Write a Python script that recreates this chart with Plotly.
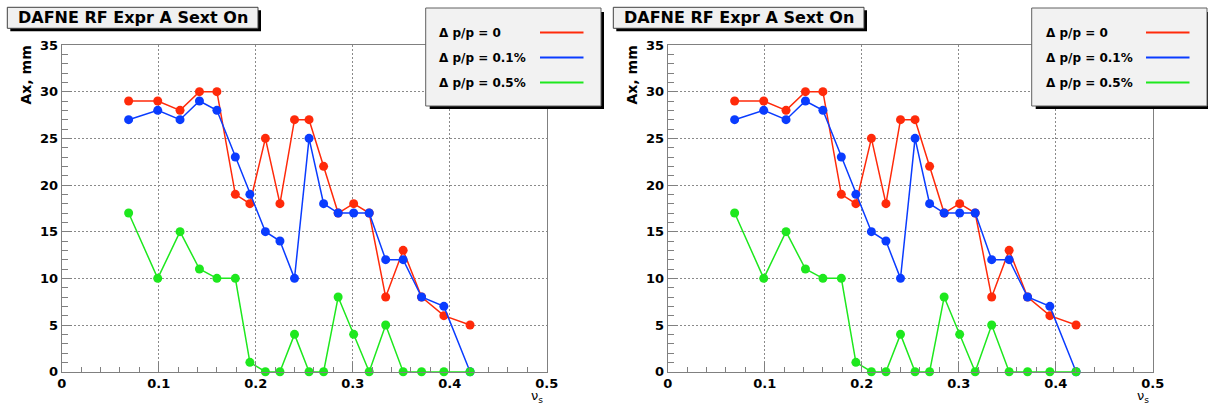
import plotly.graph_objects as go

# ---- data ----
nu_s = [0.069, 0.099, 0.122, 0.142, 0.160, 0.179, 0.194, 0.210, 0.225, 0.240,
        0.255, 0.270, 0.285, 0.301, 0.317, 0.334, 0.352, 0.371, 0.394, 0.421]
ax_dp0 = [29, 29, 28, 30, 30, 19, 18, 25, 18, 27, 27, 22, 17, 18, 17, 8, 13, 8, 6, 5]
ax_dp01 = [27, 28, 27, 29, 28, 23, 19, 15, 14, 10, 25, 18, 17, 17, 17, 12, 12, 8, 7, 0]
ax_dp05 = [17, 10, 15, 11, 10, 10, 1, 0, 0, 4, 0, 0, 8, 4, 0, 5, 0, 0, 0, 0]

series_names = ["\u0394 p/p = 0", "\u0394 p/p = 0.1%", "\u0394 p/p = 0.5%"]
series_values = [ax_dp0, ax_dp01, ax_dp05]
series_colors = ["#ff2a0a", "#0a3cff", "#1ee81e"]

title_text = "DAFNE RF Expr A Sext On"
y_title = "Ax, mm"
x_title = "\u03bd<sub>s</sub>"

W, H = 1208, 407
FONT = "DejaVu Sans"

def px(x):
    return x / W

def py(y):
    return 1 - y / H

fig = go.Figure()

panel_offsets = [0, 606]
x_left, x_right = 61.7, 546.7
y_top, y_bot = 45.0, 371.7

shapes = []
annotations = []

for i, off in enumerate(panel_offsets):
    xa = "x" if i == 0 else f"x{i+1}"
    ya = "y" if i == 0 else f"y{i+1}"
    for name, vals, col in zip(series_names, series_values, series_colors):
        fig.add_trace(go.Scatter(
            x=nu_s, y=vals, mode="lines+markers", name=name,
            line=dict(color=col, width=1.5),
            marker=dict(color=col, size=9, symbol="circle"),
            xaxis=xa, yaxis=ya, showlegend=False, cliponaxis=False))

    axis_common = dict(
        automargin=False,
        showline=True, linecolor="#808080", linewidth=1, mirror=True,
        ticks="inside", tickcolor="#808080", ticklen=10, tickwidth=1,
        showgrid=True, gridcolor="#8a8a8a", griddash="2px,2px", gridwidth=1,
        zeroline=False,
        tickfont=dict(family=FONT, size=13, color="black", weight="bold"),
    )
    xkey = "xaxis" if i == 0 else f"xaxis{i+1}"
    ykey = "yaxis" if i == 0 else f"yaxis{i+1}"
    fig.update_layout(**{
        xkey: dict(axis_common,
                   domain=[px(x_left + off), px(x_right + off)],
                   range=[0, 0.5], dtick=0.1, tick0=0,
                   anchor=ya,
                   minor=dict(dtick=0.02, ticks="inside", ticklen=5,
                              tickcolor="#808080", showgrid=False)),
        ykey: dict(axis_common,
                   domain=[py(y_bot), py(y_top)],
                   range=[0, 35], dtick=5, tick0=0,
                   anchor=xa,
                   minor=dict(dtick=1, ticks="inside", ticklen=6,
                              tickcolor="#808080", showgrid=False)),
    })

    # title box with shadow
    tx0, ty0, tx1, ty1 = 7.3 + off, 7.3, 258.0 + off, 28.3
    shapes.append(dict(type="rect", xref="paper", yref="paper",
                       x0=px(tx0 + 3), x1=px(tx1 + 3), y0=py(ty1 + 3), y1=py(ty0 + 3),
                       fillcolor="black", line=dict(width=0)))
    shapes.append(dict(type="rect", xref="paper", yref="paper",
                       x0=px(tx0), x1=px(tx1), y0=py(ty1), y1=py(ty0),
                       fillcolor="#f0f0f0", line=dict(color="#404040", width=1)))
    annotations.append(dict(text=title_text, xref="paper", yref="paper",
                            x=px((tx0 + tx1) / 2), y=py((ty0 + ty1) / 2),
                            xanchor="center", yanchor="middle", showarrow=False,
                            font=dict(family=FONT, size=16, color="black", weight="bold")))

    # legend box with shadow
    lx0, ly0, lx1, ly1 = 425.7 + off, 8.0, 601.0 + off, 106.0
    shapes.append(dict(type="rect", xref="paper", yref="paper",
                       x0=px(lx0 + 4), x1=px(lx1 + 3), y0=py(ly1 + 3), y1=py(ly0 + 4),
                       fillcolor="black", line=dict(width=0)))
    shapes.append(dict(type="rect", xref="paper", yref="paper",
                       x0=px(lx0), x1=px(lx1), y0=py(ly1), y1=py(ly0),
                       fillcolor="#f2f2f2", line=dict(color="#606060", width=1)))
    for k, (name, col) in enumerate(zip(series_names, series_colors)):
        ry = 32.5 + 25 * k
        annotations.append(dict(text=name, xref="paper", yref="paper",
                                x=px(437.5 + off), y=py(ry), xanchor="left", yanchor="middle",
                                showarrow=False,
                                font=dict(family=FONT, size=12, color="black", weight="bold")))
        shapes.append(dict(type="line", xref="paper", yref="paper",
                           x0=px(540 + off), x1=px(583.5 + off), y0=py(ry), y1=py(ry),
                           line=dict(color=col, width=2)))

    # axis titles
    annotations.append(dict(text=y_title, xref="paper", yref="paper",
                            x=px(25 + off), y=py(44), xanchor="center", yanchor="top",
                            textangle=-90, showarrow=False,
                            font=dict(family=FONT, size=14, color="black", weight="bold")))
    annotations.append(dict(text=x_title, xref="paper", yref="paper",
                            x=px(537 + off), y=py(407), xanchor="center", yanchor="bottom",
                            showarrow=False,
                            font=dict(family=FONT, size=13, color="black")))

fig.update_layout(
    width=W, height=H, margin=dict(l=0, r=0, t=0, b=0),
    paper_bgcolor="white", plot_bgcolor="white",
    showlegend=False, shapes=shapes, annotations=annotations,
)

fig.write_html("out.html")
